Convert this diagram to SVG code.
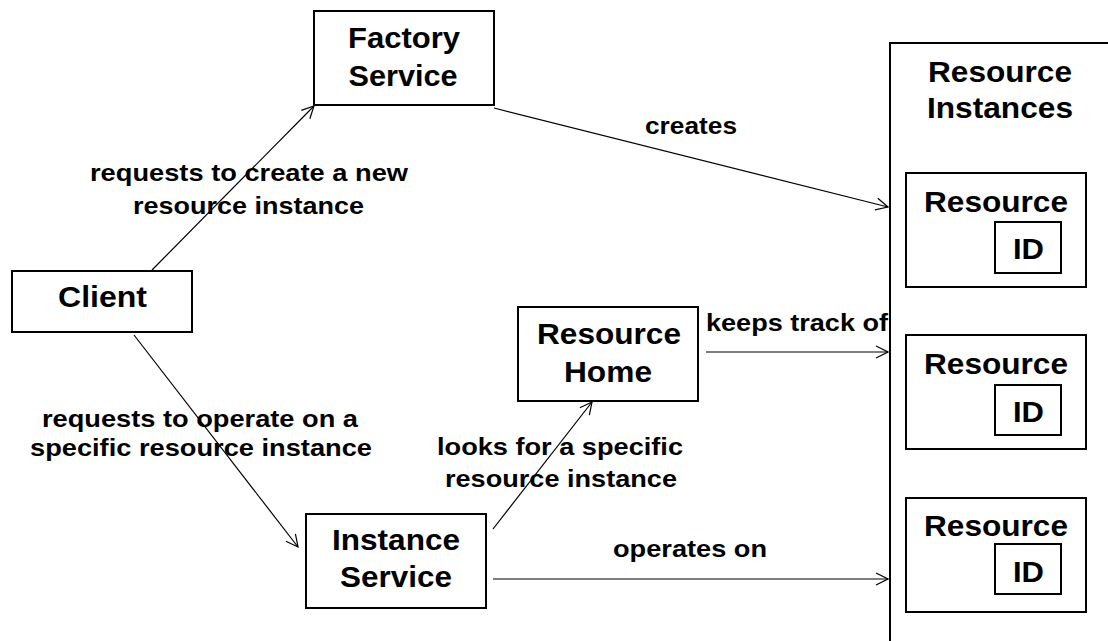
<svg xmlns="http://www.w3.org/2000/svg" width="1108" height="641" viewBox="0 0 1108 641">
  <style>
    .box { fill: #ffffff; stroke: #000000; stroke-width: 2; }
    .node { font-family: "Liberation Sans", Arial, sans-serif; font-weight: bold; font-size: 29px; fill: #000000; text-anchor: middle; }
    .lbl { font-family: "Liberation Sans", Arial, sans-serif; font-weight: bold; font-size: 24px; fill: #000000; text-anchor: middle; }
    .conn { fill: none; stroke: #000000; stroke-width: 1.2; marker-end: url(#open); }
  </style>
  <defs>
    <marker id="open" viewBox="0 0 14 14" refX="13" refY="7" markerWidth="14" markerHeight="14" markerUnits="userSpaceOnUse" orient="auto">
      <path d="M1,1 L13,7 L1,13" fill="none" stroke="#000000" stroke-width="1.2"/>
    </marker>
  </defs>
  <rect width="1108" height="641" fill="#ffffff"/>

  <!-- resource instances container with three resources -->
  <g id="resource-instances">
    <rect class="box" x="890" y="43" width="240" height="640"/>
    <text class="node" x="1000" y="82" textLength="144" lengthAdjust="spacingAndGlyphs">Resource</text>
    <text class="node" x="1000" y="118" textLength="146" lengthAdjust="spacingAndGlyphs">Instances</text>
  </g>
  <g id="resource-1">
    <rect class="box" x="906" y="173" width="180" height="114"/>
    <text class="node" x="996" y="212" textLength="144" lengthAdjust="spacingAndGlyphs">Resource</text>
    <rect class="box" x="995" y="222" width="66" height="51"/>
    <text class="node" x="1028.5" y="259" textLength="31" lengthAdjust="spacingAndGlyphs">ID</text>
  </g>
  <g id="resource-2">
    <rect class="box" x="906" y="335" width="180" height="114"/>
    <text class="node" x="996" y="374" textLength="144" lengthAdjust="spacingAndGlyphs">Resource</text>
    <rect class="box" x="995" y="385" width="66" height="50"/>
    <text class="node" x="1028.5" y="422" textLength="31" lengthAdjust="spacingAndGlyphs">ID</text>
  </g>
  <g id="resource-3">
    <rect class="box" x="906" y="498" width="180" height="114"/>
    <text class="node" x="996" y="536" textLength="144" lengthAdjust="spacingAndGlyphs">Resource</text>
    <rect class="box" x="995" y="544" width="66" height="50"/>
    <text class="node" x="1028.5" y="582" textLength="31" lengthAdjust="spacingAndGlyphs">ID</text>
  </g>

  <g id="factory-service">
    <rect class="box" x="314" y="11" width="180" height="94"/>
    <text class="node" x="404" y="48" textLength="112" lengthAdjust="spacingAndGlyphs">Factory</text>
    <text class="node" x="403" y="86" textLength="109" lengthAdjust="spacingAndGlyphs">Service</text>
  </g>
  <g id="client">
    <rect class="box" x="12" y="271" width="180" height="61"/>
    <text class="node" x="102.5" y="307" textLength="89" lengthAdjust="spacingAndGlyphs">Client</text>
  </g>
  <g id="resource-home">
    <rect class="box" x="518" y="307" width="180" height="94"/>
    <text class="node" x="609" y="344" textLength="144" lengthAdjust="spacingAndGlyphs">Resource</text>
    <text class="node" x="608" y="382" textLength="88" lengthAdjust="spacingAndGlyphs">Home</text>
  </g>
  <g id="instance-service">
    <rect class="box" x="306" y="514" width="180" height="94"/>
    <text class="node" x="396" y="550" textLength="128" lengthAdjust="spacingAndGlyphs">Instance</text>
    <text class="node" x="396" y="587" textLength="112" lengthAdjust="spacingAndGlyphs">Service</text>
  </g>

  <g id="connectors">
    <line class="conn" x1="152" y1="270" x2="314" y2="106"/>
    <line class="conn" x1="494" y1="108" x2="888" y2="207"/>
    <line class="conn" x1="134" y1="335" x2="298" y2="547"/>
    <line class="conn" x1="493" y1="529" x2="592" y2="402"/>
    <line class="conn" x1="706" y1="352" x2="888" y2="352"/>
    <line class="conn" x1="493" y1="579" x2="888" y2="579"/>
  </g>

  <g id="labels">
    <text class="lbl" x="249" y="181" textLength="318" lengthAdjust="spacingAndGlyphs">requests to create a new</text>
    <text class="lbl" x="248.5" y="214" textLength="231" lengthAdjust="spacingAndGlyphs">resource instance</text>
    <text class="lbl" x="691" y="134" textLength="92" lengthAdjust="spacingAndGlyphs">creates</text>
    <text class="lbl" x="797" y="331" textLength="182" lengthAdjust="spacingAndGlyphs">keeps track of</text>
    <text class="lbl" x="200" y="427" textLength="316" lengthAdjust="spacingAndGlyphs">requests to operate on a</text>
    <text class="lbl" x="201" y="456" textLength="342" lengthAdjust="spacingAndGlyphs">specific resource instance</text>
    <text class="lbl" x="560" y="455" textLength="246" lengthAdjust="spacingAndGlyphs">looks for a specific</text>
    <text class="lbl" x="561" y="487" textLength="232" lengthAdjust="spacingAndGlyphs">resource instance</text>
    <text class="lbl" x="690" y="557" textLength="154" lengthAdjust="spacingAndGlyphs">operates on</text>
  </g>
</svg>
